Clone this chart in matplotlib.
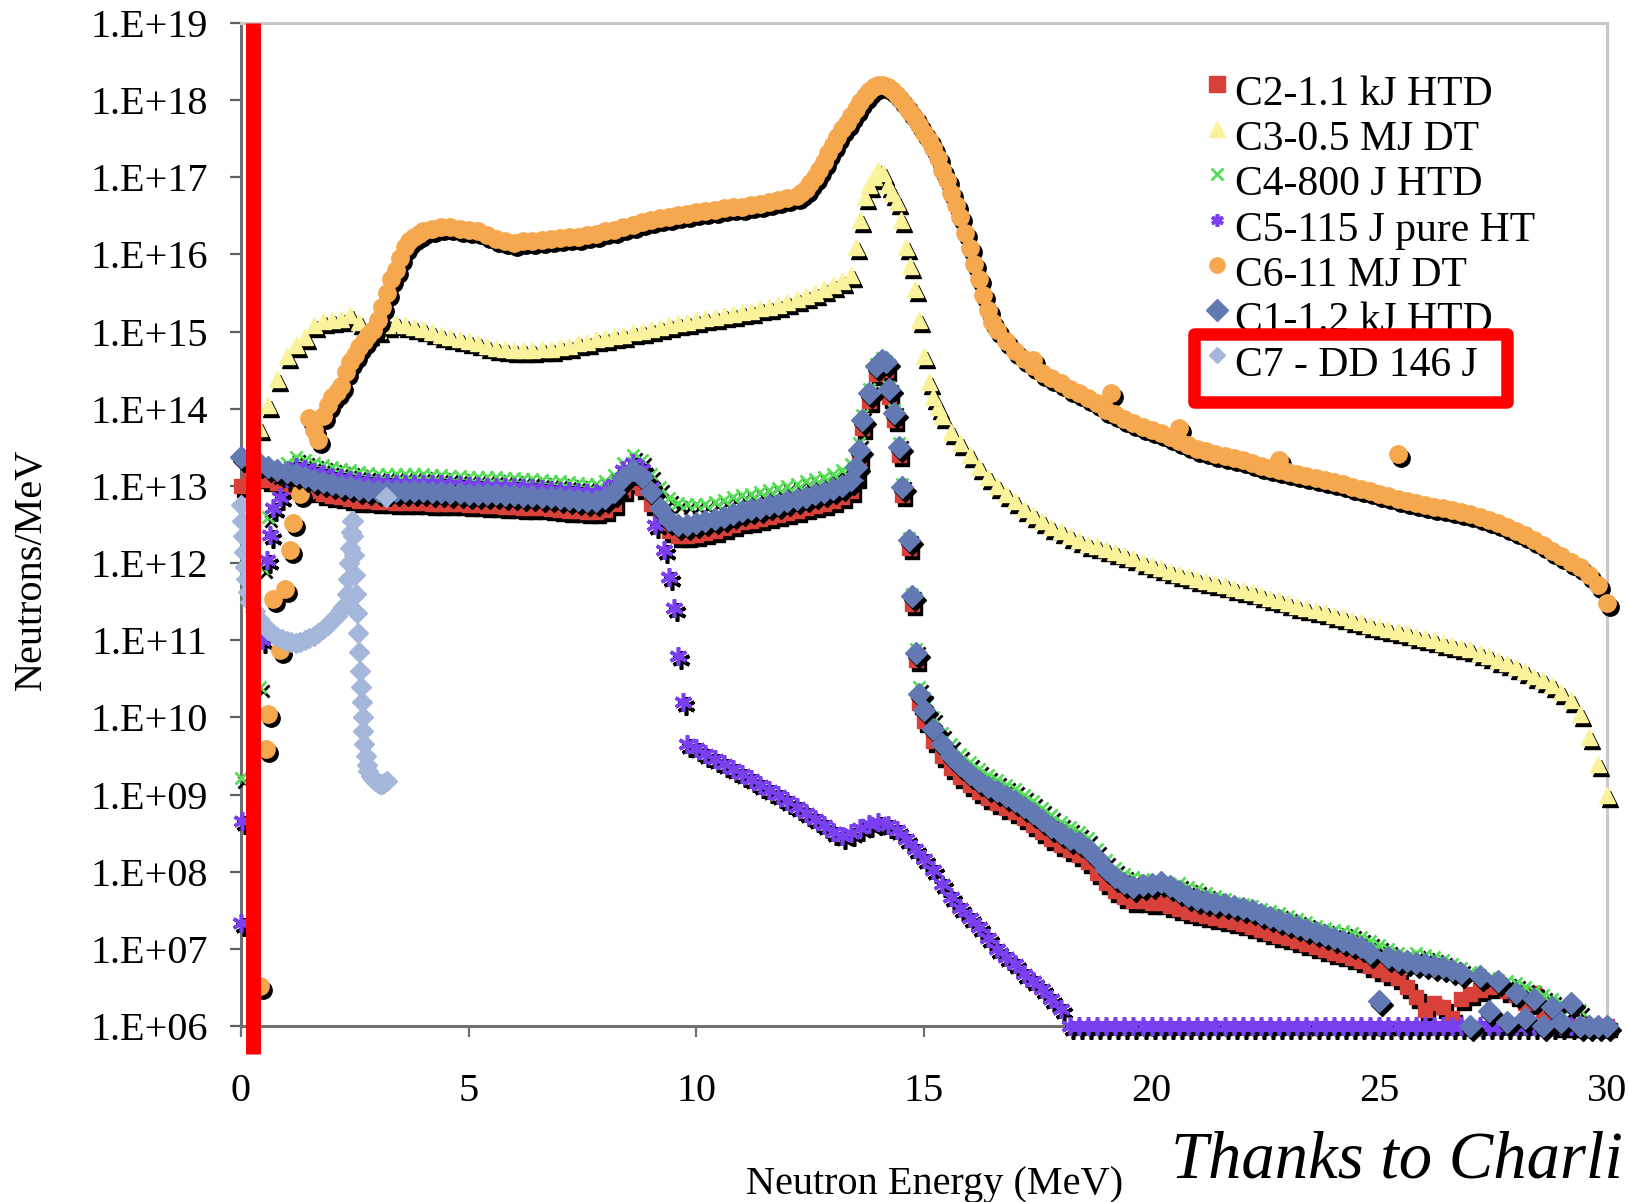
import numpy as np
import matplotlib
matplotlib.use("Agg")
import matplotlib.pyplot as plt
import matplotlib.transforms as mtransforms
from matplotlib.lines import Line2D
from matplotlib.patches import Rectangle
from matplotlib.ticker import FixedLocator, NullLocator

plt.rcParams['font.family'] = ['Liberation Serif', 'DejaVu Serif']

W, H = 1628, 1202


def steps(start, vals, dE=0.2):
    # energies for a run of evenly spaced bins
    return np.round(start + dE * np.arange(len(vals)), 2)


# ---- spectra, log10(neutrons/MeV) ----

# C2-1.1 kJ HTD
c2_low = [13.0, 13.1, 13.12, 13.08, 13.04, 13.01, 12.99, 12.96, 12.93, 12.9,
          12.87, 12.85, 12.83, 12.81, 12.8, 12.79, 12.79, 12.78, 12.78, 12.78,
          12.78, 12.77, 12.77, 12.76, 12.76, 12.75, 12.75, 12.74, 12.74, 12.73,
          12.73, 12.72, 12.72, 12.71, 12.7, 12.69, 12.68, 12.67, 12.66, 12.66,
          12.69, 12.77, 12.95, 13.05, 12.97, 12.77, 12.57, 12.41, 12.35, 12.35,
          12.37, 12.39, 12.42, 12.45, 12.49, 12.53, 12.55, 12.57, 12.6, 12.62,
          12.65, 12.68, 12.71, 12.74, 12.77, 12.81, 12.85, 12.93]
c2_peak = [13.12, 13.35, 13.75, 14.1, 14.45, 14.53, 14.5, 14.15, 13.85, 13.4,
           12.88, 12.2, 11.47, 10.74, 10.18]
c2_tail = [9.95, 9.7, 9.5, 9.35, 9.23, 9.12, 9.03, 8.95, 8.89, 8.83,
           8.77, 8.69, 8.61, 8.52, 8.43, 8.35, 8.28, 8.22, 8.12, 7.98,
           7.85, 7.75, 7.67, 7.62, 7.62, 7.6, 7.6, 7.55, 7.52, 7.48,
           7.45, 7.42, 7.4, 7.37, 7.35, 7.32, 7.28, 7.24, 7.2, 7.17,
           7.14, 7.1, 7.06, 7.02, 6.98, 6.95, 6.92, 6.88, 6.84, 6.78,
           6.72, 6.68, 6.62, 6.5, 6.38, 6.21, 6.3, 6.25, 6.1, 6.35,
           6.42, 6.47, 6.5, 6.52, 6.45, 6.4, 6.3, 6.43, 6.2, 6.1,
           6.0, 6.0, 6.0, 6.0, 6.0, 6.0]

# C3-0.5 MJ DT
c3_low = [13.4, 13.75, 14.05, 14.38, 14.68, 14.83, 14.93, 15.08, 15.14,
          15.15, 15.16, 15.22, 15.12, 14.98, 15.02, 15.08, 15.11, 15.09, 15.06,
          15.03, 15.0, 14.96, 14.93, 14.9, 14.88, 14.85, 14.82, 14.79, 14.77,
          14.76, 14.76, 14.76, 14.77, 14.78, 14.8, 14.82, 14.85, 14.87, 14.9,
          14.92, 14.94, 14.96, 14.99, 15.01, 15.04, 15.06, 15.09, 15.11, 15.13,
          15.15, 15.17, 15.19, 15.21, 15.23, 15.25, 15.27, 15.3, 15.32, 15.35,
          15.38, 15.42, 15.46, 15.5, 15.55, 15.6, 15.65, 15.74]
c3_peak = [16.1, 16.45, 16.75, 16.9, 17.0, 17.1, 17.05, 16.9, 16.8, 16.68,
           16.45, 16.1, 15.85, 15.55, 15.15, 14.68, 14.35, 14.15, 14.02]
c3_tail = [13.9, 13.7, 13.55, 13.4, 13.25, 13.12, 13.0, 12.89, 12.8, 12.7,
           12.62, 12.54, 12.47, 12.41, 12.35, 12.3, 12.25, 12.22, 12.18, 12.14,
           12.1, 12.06, 12.02, 11.98, 11.94, 11.9, 11.86, 11.83, 11.8, 11.77,
           11.74, 11.71, 11.68, 11.65, 11.62, 11.59, 11.55, 11.52, 11.48, 11.45,
           11.42, 11.39, 11.36, 11.33, 11.3, 11.26, 11.23, 11.2, 11.17, 11.14,
           11.12, 11.09, 11.06, 11.03, 11.0, 10.97, 10.94, 10.91, 10.88, 10.84,
           10.8, 10.75, 10.7, 10.65, 10.6, 10.54, 10.48, 10.42, 10.33, 10.22,
           10.05, 9.75, 9.4, 9.0]

# C4-800 J HTD
c4_first_e = [0.0, 0.42, 0.48]
c4_first = [9.21, 10.4, 11.93]
c4_low = [12.6, 13.15, 13.3, 13.37, 13.34, 13.3, 13.27,
          13.24, 13.22, 13.2, 13.18, 13.17, 13.16, 13.16, 13.15, 13.15, 13.15,
          13.15, 13.14, 13.14, 13.13, 13.13, 13.12, 13.12, 13.11, 13.11, 13.1,
          13.1, 13.09, 13.09, 13.08, 13.07, 13.06, 13.05, 13.04, 13.03, 13.03,
          13.06, 13.14, 13.3, 13.4, 13.34, 13.16, 12.98, 12.84, 12.78, 12.76,
          12.76, 12.77, 12.79, 12.82, 12.85, 12.88, 12.9, 12.92, 12.95, 12.97,
          13.0, 13.03, 13.06, 13.09, 13.12, 13.16, 13.2, 13.28]
c4_peak = [13.38, 13.55, 13.92, 14.25, 14.58, 14.66, 14.62, 14.28, 13.98, 13.55,
           13.03, 12.33, 11.6, 10.88, 10.4]
c4_tail = [10.25, 10.0, 9.8, 9.65, 9.53, 9.42, 9.33, 9.25, 9.19, 9.13,
           9.07, 8.99, 8.91, 8.82, 8.73, 8.65, 8.58, 8.52, 8.44, 8.3,
           8.15, 8.05, 7.97, 7.93, 7.9, 7.88, 7.87, 7.83, 7.85, 7.8,
           7.77, 7.72, 7.68, 7.64, 7.6, 7.58, 7.56, 7.52, 7.49, 7.47,
           7.43, 7.39, 7.35, 7.3, 7.27, 7.25, 7.23, 7.2, 7.15, 7.1,
           7.05, 7.0, 6.95, 6.9, 6.95, 6.92, 6.9, 6.85, 6.8, 6.75,
           6.7, 6.66, 6.62, 6.6, 6.58, 6.56, 6.5, 6.45, 6.4, 6.35,
           6.3, 6.25, 6.21, 6.0, 6.0, 6.0]

# C5-115 J pure HT
c5_first_e = [0.0, 0.02, 0.46, 0.57, 0.64, 0.7, 0.86]
c5_first = [7.34, 8.66, 11.0, 12.04, 12.37, 12.71, 12.86]
c5_low = [13.1, 13.25, 13.22, 13.18, 13.15,
          13.12, 13.1, 13.08, 13.06, 13.05, 13.04, 13.04, 13.03, 13.03, 13.03,
          13.03, 13.02, 13.02, 13.01, 13.01, 13.0, 13.0, 12.99, 12.99, 12.98,
          12.98, 12.97, 12.97, 12.96, 12.95, 12.94, 12.93, 12.92, 12.91, 12.91,
          12.94, 13.02, 13.2, 13.3, 13.22, 12.98]
c5_drop_e = [9.1, 9.3, 9.4, 9.5, 9.6, 9.7]
c5_drop = [12.5, 12.17, 11.82, 11.42, 10.79, 10.2]
c5_tail = [9.65, 9.6, 9.52, 9.46, 9.4, 9.33, 9.26, 9.2, 9.13, 9.06,
           9.0, 8.92, 8.84, 8.76, 8.68, 8.6, 8.52, 8.46, 8.5, 8.56,
           8.62, 8.64, 8.6, 8.54, 8.43, 8.3, 8.17, 8.02, 7.84, 7.67,
           7.53, 7.4, 7.28, 7.14, 7.0, 6.9, 6.8, 6.68, 6.58, 6.48,
           6.35, 6.22, 6.0,
           6.0, 6.0, 6.0, 6.0, 6.0, 6.0, 6.0, 6.0, 6.0, 6.0,
           6.0, 6.0, 6.0, 6.0, 6.0, 6.0, 6.0, 6.0, 6.0, 6.0,
           6.0, 6.0, 6.0, 6.0, 6.0, 6.0, 6.0, 6.0, 6.0, 6.0,
           6.0, 6.0, 6.0, 6.0, 6.0, 6.0, 6.0, 6.0, 6.0, 6.0,
           6.0, 6.0, 6.0, 6.0, 6.0, 6.0, 6.0, 6.0, 6.0, 6.0,
           6.0, 6.0, 6.0, 6.0, 6.0, 6.0, 6.0, 6.0, 6.0]

# C6-11 MJ DT
c6_first_e = [0.42, 0.56, 0.6, 0.7, 0.86, 0.96, 1.07, 1.14, 1.29]
c6_first = [6.52, 9.59, 10.05, 11.53, 10.87, 11.67, 12.17, 12.52, 12.9]
c6_rise = [13.88, 13.72, 13.6, 13.9, 14.05, 14.15, 14.22, 14.3, 14.48, 14.6,
           14.7, 14.8, 14.88, 14.95, 15.02, 15.15, 15.32, 15.5, 15.68, 15.8,
           15.95, 16.1, 16.17, 16.22, 16.27, 16.3]
c6_flat = [16.33, 16.35, 16.35, 16.33, 16.32, 16.3, 16.25, 16.2, 16.17, 16.15,
           16.17, 16.18, 16.19, 16.2, 16.21, 16.22, 16.23, 16.25, 16.27, 16.3,
           16.32, 16.35, 16.38, 16.42, 16.45, 16.47, 16.49, 16.51, 16.53, 16.55,
           16.56, 16.58, 16.6, 16.61, 16.62, 16.64, 16.66, 16.68, 16.7, 16.73,
           16.76]
c6_peak = [16.8, 16.85, 16.92, 17.0, 17.1, 17.2, 17.31, 17.42, 17.52, 17.62,
           17.71, 17.8, 17.89, 17.98, 18.06, 18.12, 18.17, 18.2, 18.2, 18.17,
           18.13, 18.07, 18.0, 17.93, 17.85, 17.77, 17.68, 17.58, 17.48, 17.38,
           17.25, 17.1, 16.96, 16.8, 16.64, 16.48, 16.28, 16.08, 15.88, 15.68,
           15.48, 15.28, 15.12, 15.02]
c6_tail = [14.88, 14.75, 14.64, 14.55, 14.47, 14.4, 14.33, 14.26, 14.2, 14.14,
           14.07, 13.98, 13.93, 13.87, 13.82, 13.77, 13.72, 13.68, 13.63, 13.58,
           13.53, 13.48, 13.45, 13.42, 13.39, 13.36, 13.33, 13.3, 13.26, 13.23,
           13.21, 13.18, 13.16, 13.13, 13.1, 13.08, 13.05, 13.02, 12.99, 12.96,
           12.93, 12.9, 12.87, 12.83, 12.8, 12.78, 12.75, 12.73, 12.71, 12.69,
           12.66, 12.63, 12.6, 12.56, 12.52, 12.47, 12.42, 12.37, 12.3, 12.23,
           12.16, 12.09, 12.02, 11.95, 11.85, 11.72, 11.48]
c6_odd_e = [17.4, 19.1, 20.6, 22.8, 25.4]
c6_odd = [14.63, 14.2, 13.75, 13.34, 13.42]

# C1-1.2 kJ HTD
c1_low = [13.37, 13.35, 13.3, 13.25, 13.21, 13.18, 13.15, 13.12, 13.08, 13.05,
          13.02, 13.0, 12.98, 12.96, 12.95, 12.94, 12.94, 12.93, 12.93, 12.93,
          12.93, 12.92, 12.92, 12.91, 12.91, 12.9, 12.9, 12.89, 12.89, 12.88,
          12.88, 12.87, 12.87, 12.86, 12.85, 12.84, 12.83, 12.82, 12.81, 12.81,
          12.84, 12.92, 13.1, 13.2, 13.12, 12.92, 12.72, 12.56, 12.5, 12.5,
          12.52, 12.54, 12.57, 12.6, 12.64, 12.68, 12.7, 12.72, 12.75, 12.77,
          12.8, 12.83, 12.86, 12.89, 12.92, 12.96, 13.0, 13.08]
c1_peak = [13.25, 13.47, 13.86, 14.2, 14.55, 14.63, 14.6, 14.25, 13.95, 13.51,
           12.99, 12.3, 11.57, 10.84, 10.3]
c1_tail = [10.1, 9.85, 9.65, 9.5, 9.38, 9.27, 9.18, 9.1, 9.04, 8.98,
           8.92, 8.84, 8.76, 8.67, 8.58, 8.5, 8.43, 8.38, 8.3, 8.18,
           8.03, 7.93, 7.85, 7.8, 7.83, 7.84, 7.86, 7.82, 7.75, 7.69,
           7.64, 7.62, 7.6, 7.58, 7.56, 7.53, 7.5, 7.45, 7.41, 7.38,
           7.34, 7.3, 7.26, 7.22, 7.18, 7.14, 7.1, 7.06, 7.02, 6.95,
           6.33, 6.9, 6.86, 6.84, 6.82, 6.8, 6.78, 6.76, 6.72, 6.69,
           6.0, 6.65, 6.2, 6.58, 6.05, 6.43, 6.1, 6.35, 6.0, 6.25,
           6.05, 6.3, 6.0, 6.0, 6.0, 6.0]
peak_e = [13.5, 13.57, 13.64, 13.79, 13.94, 14.08, 14.16, 14.23, 14.34, 14.45,
          14.52, 14.67, 14.74, 14.82, 14.89]

# C7 - DD 146 J
c7_e = [0.0, 0.02, 0.04, 0.06, 0.08, 0.1, 0.15, 0.2, 0.3, 0.4,
        0.5, 0.6, 0.7, 0.8, 0.9, 1.0, 1.1, 1.2, 1.3, 1.4,
        1.5, 1.6, 1.7, 1.8, 1.9, 2.0, 2.1, 2.2, 2.25, 2.3,
        2.33, 2.35, 2.37, 2.39, 2.41, 2.43, 2.45, 2.47, 2.49, 2.51,
        2.53, 2.55, 2.57, 2.59, 2.61, 2.63, 2.65, 2.67, 2.69, 2.71,
        2.74, 2.77, 2.8, 2.85, 2.9, 2.95, 3.0, 3.05, 3.1, 3.15,
        3.2, 3.18]
c7 = [12.75, 12.55, 12.35, 12.15, 11.95, 11.8, 11.62, 11.5, 11.38, 11.28,
      11.2, 11.13, 11.08, 11.04, 11.01, 10.99, 10.98, 10.97, 10.98, 11.0,
      11.03, 11.06, 11.1, 11.15, 11.2, 11.26, 11.32, 11.39, 11.43, 11.47,
      11.6, 11.8, 12.0, 12.2, 12.4, 12.55, 12.55, 12.35, 12.1, 11.85,
      11.6, 11.35, 11.1, 10.85, 10.6, 10.4, 10.2, 10.0, 9.82, 9.66,
      9.5, 9.38, 9.3, 9.24, 9.2, 9.17, 9.15, 9.14, 9.14, 9.15,
      9.17, 12.85]

series = [
    ("C2-1.1 kJ HTD",
     np.concatenate([steps(0.0, c2_low), peak_e, steps(15.0, c2_tail)]),
     c2_low + c2_peak + c2_tail,
     dict(color='#D8403A', marker='s', ms=10.5, mew=1.0, ls=12, shadow=True)),
    ("C3-0.5 MJ DT",
     np.concatenate([steps(0.2, c3_low), steps(13.5, c3_peak, 0.1), steps(15.4, c3_tail)]),
     c3_low + c3_peak + c3_tail,
     dict(color='#FBF39C', marker='^', ms=12.0, mew=1.0, ls=11, shadow=True)),
    ("C4-800 J HTD",
     np.concatenate([c4_first_e, steps(0.6, c4_low), peak_e, steps(15.0, c4_tail)]),
     c4_first + c4_low + c4_peak + c4_tail,
     dict(color='#55DD55', marker='x', ms=9.0, mew=2.0, ls=8, shadow=True)),
    ("C5-115 J pure HT",
     np.concatenate([c5_first_e, steps(1.0, c5_low), c5_drop_e, steps(9.8, c5_tail)]),
     c5_first + c5_low + c5_drop + c5_tail,
     dict(color='#7A3FF0', marker=(6, 2, 0), ms=13.0, mew=2.6, ls=9, shadow=True)),
    ("C6-11 MJ DT",
     np.concatenate([c6_first_e, steps(1.5, c6_rise, 0.1), steps(4.2, c6_flat),
                     steps(12.3, c6_peak, 0.1), steps(16.8, c6_tail), c6_odd_e]),
     c6_first + c6_rise + c6_flat + c6_peak + c6_tail + c6_odd,
     dict(color='#F6A84E', marker='o', ms=12.5, mew=1.0, ls=11, shadow=True)),
    ("C1-1.2 kJ HTD",
     np.concatenate([steps(0.0, c1_low), peak_e, steps(15.0, c1_tail)]),
     c1_low + c1_peak + c1_tail,
     dict(color='#6379B3', marker='D', ms=11.0, mew=1.0, ls=11, shadow=True)),
    ("C7 - DD 146 J", np.array(c7_e), c7,
     dict(color='#A4B6DA', marker='D', ms=10.5, mew=1.0, ls=8, shadow=False)),
]

x_ticks = [0, 5, 10, 15, 20, 25, 30]
y_ticks = [1e6, 1e7, 1e8, 1e9, 1e10, 1e11, 1e12, 1e13, 1e14, 1e15, 1e16, 1e17, 1e18, 1e19]
y_tick_labels = ["1.E+06", "1.E+07", "1.E+08", "1.E+09", "1.E+10", "1.E+11", "1.E+12",
                 "1.E+13", "1.E+14", "1.E+15", "1.E+16", "1.E+17", "1.E+18", "1.E+19"]

fig = plt.figure(figsize=(W / 100, H / 100), dpi=100)
ax = fig.add_axes([241 / W, 1 - 1026 / H, (1607 - 241) / W, (1026 - 23) / H])
ax.set_yscale('log')
ax.set_xlim(0, 30)
ax.set_ylim(1e6, 1e19)

# drop shadow offset, right and down
shadow = mtransforms.ScaledTranslation(3 / 100, -4 / 100, fig.dpi_scale_trans)

for label, e, lg, st in series:
    y = 10.0 ** np.asarray(lg)
    if st['shadow']:
        ax.plot(e, y, ls='none', marker=st['marker'], ms=st['ms'], mew=st['mew'],
                mfc='black', mec='black', transform=ax.transData + shadow,
                clip_on=False, zorder=3)
    ax.plot(e, y, ls='none', marker=st['marker'], ms=st['ms'], mew=st['mew'],
            mfc=st['color'], mec=st['color'], clip_on=False, zorder=3)

ax.xaxis.set_major_locator(FixedLocator(x_ticks))
ax.set_xticklabels([str(t) for t in x_ticks])
ax.yaxis.set_major_locator(FixedLocator(y_ticks))
ax.yaxis.set_minor_locator(NullLocator())
ax.set_yticklabels(y_tick_labels)
ax.tick_params(axis='y', direction='out', length=8, width=1.6, color='#606060',
               labelsize=29, pad=16)
ax.tick_params(axis='x', direction='out', length=8, width=1.6, color='#707070',
               labelsize=29, pad=26)

for side in ['left', 'bottom']:
    ax.spines[side].set_color('#707070')
    ax.spines[side].set_linewidth(2.2)
for side in ['top', 'right']:
    ax.spines[side].set_color('#C8C8C8')
    ax.spines[side].set_linewidth(2.2)

fig.text(935 / W, 1 - 1194 / H, "Neutron Energy (MeV)", fontsize=29,
         ha='center', va='baseline')
fig.text(31 / W, 1 - 569 / H, "Neutrons/MeV", fontsize=29, rotation=90,
         ha='center', va='center')

# legend, drawn entry by entry
for i, (label, e, lg, st) in enumerate(series):
    base = 105 + 45.2 * i
    fig.add_artist(Line2D([1217 / W], [1 - (base - 21) / H], ls='none',
                          marker=st['marker'], ms=st['ls'], mew=st['mew'],
                          mfc=st['color'], mec=st['color'], zorder=4))
    fig.text(1235 / W, 1 - base / H, label, fontsize=30, ha='left',
             va='baseline', zorder=4)

# highlight box around the DD entry
fig.add_artist(Rectangle((1193.5 / W, 1 - 402.5 / H), (1506.5 - 1193.5) / W,
                         (402.5 - 334.5) / H, transform=fig.transFigure,
                         fill=False, ec='#FF0000', lw=9, joinstyle='round', zorder=10))
# red marker line near zero energy
fig.add_artist(Line2D([252.5 / W, 252.5 / W], [1 - 23 / H, 1 - 1054 / H],
                      color='#FF0000', lw=10.8, solid_capstyle='butt', zorder=10))

fig.text(1171 / W, 1 - 1177 / H, "Thanks to Charli", fontsize=48,
         style='italic', ha='left', va='baseline')

fig.savefig("out.png", dpi=100, facecolor='white')
